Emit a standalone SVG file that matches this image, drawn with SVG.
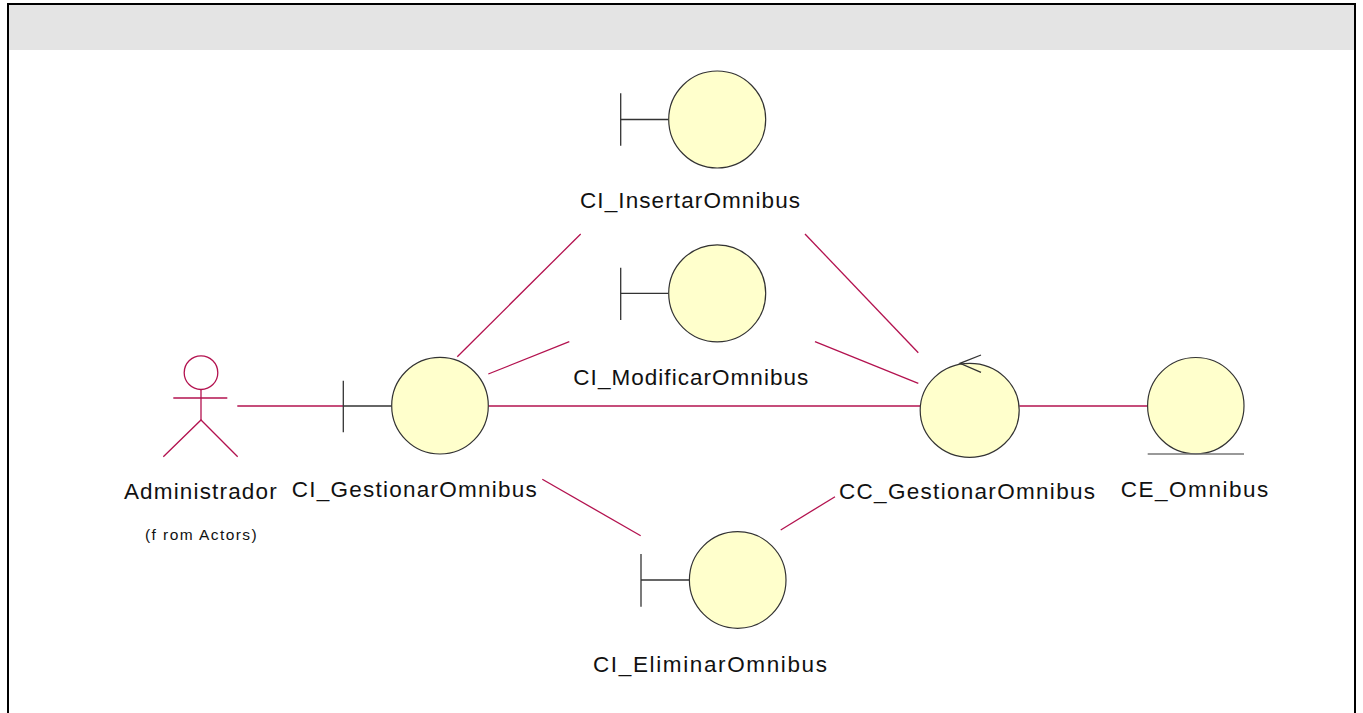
<svg xmlns="http://www.w3.org/2000/svg" width="1363" height="713" viewBox="0 0 1363 713">
  <style>
    .lbl { font-family: "Liberation Sans", Arial, sans-serif; font-size: 22.5px; fill: #111; }
    .small { font-family: "Liberation Sans", Arial, sans-serif; font-size: 15.5px; fill: #111; }
    .ball { fill: #ffffcc; stroke: #333; stroke-width: 1.2; }
    .stem { stroke: #333; stroke-width: 1.3; fill: none; }
    .link { stroke: #b3124f; stroke-width: 1.3; fill: none; }
    .actor { stroke: #b3124f; stroke-width: 1.3; fill: none; }
  </style>

  <!-- page frame and header band -->
  <rect x="0" y="0" width="1363" height="713" fill="#ffffff"/>
  <rect x="9" y="5" width="1345" height="45" fill="#e4e4e4"/>
  <path d="M8,713 V4 H1355 V713" fill="none" stroke="#000" stroke-width="2"/>

  <!-- associations -->
  <g id="connectors">
    <line class="link" x1="237.3" y1="406" x2="343.3" y2="406"/>
    <line class="link" x1="488.3" y1="406" x2="920" y2="406"/>
    <line class="link" x1="1019.3" y1="406" x2="1147.7" y2="406"/>
    <line class="link" x1="457.3" y1="356.7" x2="580.7" y2="234"/>
    <line class="link" x1="488.3" y1="374" x2="569.3" y2="341.7"/>
    <line class="link" x1="805" y1="234" x2="918.3" y2="352.7"/>
    <line class="link" x1="815" y1="341.7" x2="918.3" y2="383.3"/>
    <line class="link" x1="542.3" y1="479.3" x2="640.7" y2="535.7"/>
    <line class="link" x1="780.7" y1="530" x2="835" y2="496.7"/>
  </g>

  <!-- actor -->
  <g id="Administrador">
    <circle class="actor" cx="201" cy="372.7" r="16.8"/>
    <line class="actor" x1="173.3" y1="398" x2="227.3" y2="398"/>
    <line class="actor" x1="201" y1="389.5" x2="201" y2="420"/>
    <polyline class="actor" points="163.3,456.7 201,420 237.7,456.7"/>
    <text class="lbl" x="200.3" y="498.5" text-anchor="middle" textLength="152.7" lengthAdjust="spacing">Administrador</text>
    <text class="small" x="200.8" y="540" text-anchor="middle" textLength="111.7" lengthAdjust="spacing">(f rom Actors)</text>
  </g>

  <!-- boundary: CI_GestionarOmnibus -->
  <g id="CI_GestionarOmnibus">
    <line class="stem" x1="343.3" y1="380.7" x2="343.3" y2="432.3"/>
    <line class="stem" x1="343.3" y1="406" x2="391.7" y2="406"/>
    <circle class="ball" cx="440" cy="405.7" r="48.3"/>
    <text class="lbl" x="414.2" y="497.3" text-anchor="middle" textLength="245" lengthAdjust="spacing">CI_GestionarOmnibus</text>
  </g>

  <!-- boundary: CI_InsertarOmnibus -->
  <g id="CI_InsertarOmnibus">
    <line class="stem" x1="620.7" y1="93.3" x2="620.7" y2="145.7"/>
    <line class="stem" x1="620.7" y1="119.5" x2="668.3" y2="119.5"/>
    <circle class="ball" cx="717.2" cy="119.5" r="48.5"/>
    <text class="lbl" x="690" y="208.3" text-anchor="middle" textLength="220" lengthAdjust="spacing">CI_InsertarOmnibus</text>
  </g>

  <!-- boundary: CI_ModificarOmnibus -->
  <g id="CI_ModificarOmnibus">
    <line class="stem" x1="620.7" y1="267.7" x2="620.7" y2="320"/>
    <line class="stem" x1="620.7" y1="293.3" x2="668.3" y2="293.3"/>
    <circle class="ball" cx="717.2" cy="293.3" r="48.5"/>
    <text class="lbl" x="690.8" y="385" text-anchor="middle" textLength="235" lengthAdjust="spacing">CI_ModificarOmnibus</text>
  </g>

  <!-- boundary: CI_EliminarOmnibus -->
  <g id="CI_EliminarOmnibus">
    <line class="stem" x1="641" y1="554" x2="641" y2="606.7"/>
    <line class="stem" x1="641" y1="580" x2="689.3" y2="580"/>
    <circle class="ball" cx="737.7" cy="580" r="48.3"/>
    <text class="lbl" x="710" y="671.7" text-anchor="middle" textLength="234" lengthAdjust="spacing">CI_EliminarOmnibus</text>
  </g>

  <!-- control: CC_GestionarOmnibus -->
  <g id="CC_GestionarOmnibus">
    <ellipse class="ball" cx="969.7" cy="410.3" rx="49.5" ry="47"/>
    <polyline class="stem" points="981,355 960,363.3 981,372.3"/>
    <text class="lbl" x="967" y="499.3" text-anchor="middle" textLength="256" lengthAdjust="spacing">CC_GestionarOmnibus</text>
  </g>

  <!-- entity: CE_Omnibus -->
  <g id="CE_Omnibus">
    <circle class="ball" cx="1195.8" cy="405.7" r="48.2"/>
    <line x1="1147.7" y1="454" x2="1244" y2="454" stroke="#777" stroke-width="1.3"/>
    <text class="lbl" x="1194.5" y="497.3" text-anchor="middle" textLength="147.6" lengthAdjust="spacing">CE_Omnibus</text>
  </g>
</svg>
